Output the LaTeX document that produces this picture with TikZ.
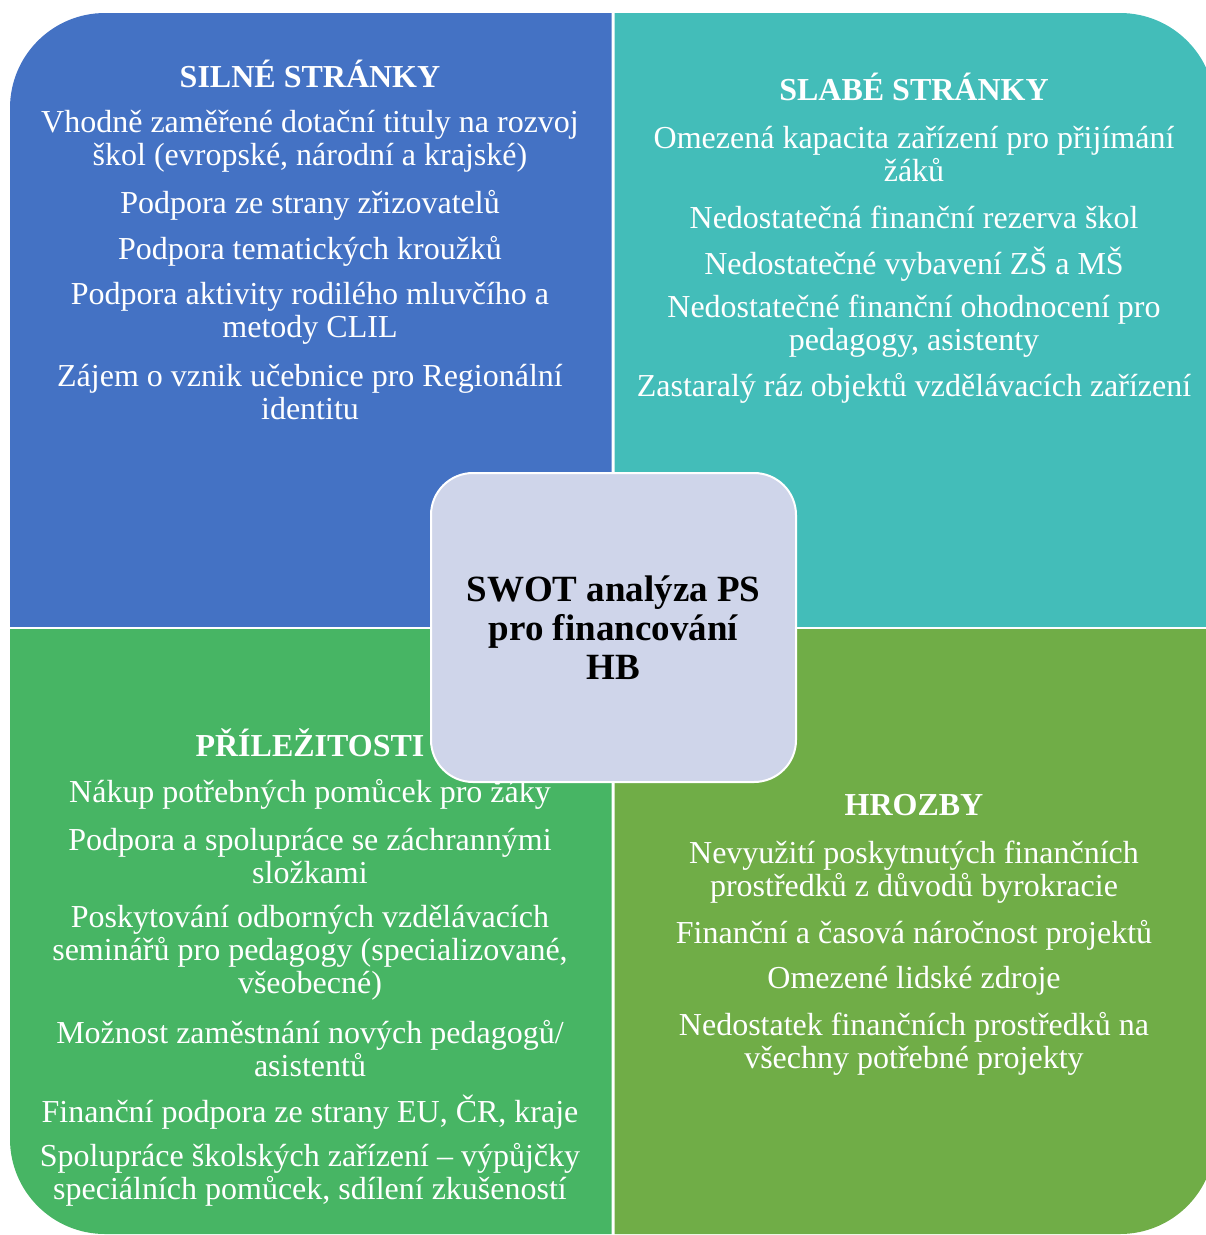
\documentclass[tikz,border=0pt]{standalone}
\usepackage{fontspec}
\setmainfont{Liberation Serif}
\definecolor{qblue}{HTML}{4472C4}
\definecolor{qteal}{HTML}{43BDB9}
\definecolor{qgreen}{HTML}{47B564}
\definecolor{qolive}{HTML}{70AD47}
\definecolor{qcenter}{HTML}{CFD5EA}
\tikzset{
  item/.style={text=white, align=center, inner sep=0pt, yshift=-3pt, font=\fontsize{32}{33}\selectfont},
  head/.style={text=white, align=center, inner sep=0pt, yshift=1pt, font=\fontsize{32}{33}\selectfont\bfseries},
  centerbox/.style={fill=qcenter, draw=white, line width=2pt, rounded corners=42pt,
    minimum width=365pt, minimum height=309pt, align=center, inner sep=0pt,
    font=\fontsize{37}{39}\selectfont\bfseries}
}
\begin{document}
\begin{tikzpicture}[x=1pt,y=-1pt]
\useasboundingbox (0,0) rectangle (1206,1235);
\clip (0,0) rectangle (1206,1235);
% quadrants
\begin{scope}
  \clip (0,0) rectangle (611.5,626.5);
  \fill[qblue, rounded corners=95pt] (10,13) rectangle (1215,1234);
\end{scope}
\begin{scope}
  \clip (614.5,0) rectangle (1220,626.5);
  \fill[qteal, rounded corners=95pt] (10,13) rectangle (1215,1234);
\end{scope}
\begin{scope}
  \clip (0,629) rectangle (611.5,1240);
  \fill[qgreen, rounded corners=95pt] (10,13) rectangle (1215,1234);
\end{scope}
\begin{scope}
  \clip (614.5,629) rectangle (1220,1240);
  \fill[qolive, rounded corners=95pt] (10,13) rectangle (1215,1234);
\end{scope}
% strengths
\node[head] (sh) at (310,75) {SILNÉ STRÁNKY};
\node[item] (s1) at (310,138.5) {Vhodně zaměřené dotační tituly na rozvoj\\škol (evropské, národní a krajské)};
\node[item] (s2) at (310,202) {Podpora ze strany zřizovatelů};
\node[item] (s3) at (310,248) {Podpora tematických kroužků};
\node[item] (s4) at (310,310.5) {Podpora aktivity rodilého mluvčího a\\metody CLIL};
\node[item] (s5) at (310,389.5) {Zájem o vznik učebnice pro Regionální\\identitu};
% weaknesses
\node[head] (wh) at (914,88) {SLABÉ STRÁNKY};
\node[item] (w1) at (914,151.5) {Omezená kapacita zařízení pro přijímání\\žáků};
\node[item] (w2) at (914,214) {Nedostatečná finanční rezerva škol};
\node[item] (w3) at (914,261) {Nedostatečné vybavení ZŠ a MŠ};
\node[item] (w4) at (914,323.5) {Nedostatečné finanční ohodnocení pro\\pedagogy, asistenty};
\node[item] (w5) at (914,385) {Zastaralý ráz objektů vzdělávacích zařízení};
% opportunities
\node[head] (oh) at (310,744) {PŘÍLEŽITOSTI};
\node[item] (o1) at (310,791) {Nákup potřebných pomůcek pro žáky};
\node[item] (o2) at (310,853.5) {Podpora a spolupráce se záchrannými\\složkami};
\node[item] (o3) at (310,949.5) {Poskytování odborných vzdělávacích\\seminářů pro pedagogy (specializované,\\všeobecné)};
\node[item] (o4) at (310,1046) {Možnost zaměstnání nových pedagogů/\\asistentů};
\node[item] (o5) at (310,1109) {Finanční podpora ze strany EU, ČR, kraje};
\node[item] (o6) at (310,1171.5) {Spolupráce školských zařízení – výpůjčky\\speciálních pomůcek, sdílení zkušeností};
% threats
\node[head] (th) at (914,806) {HROZBY};
\node[item] (t1) at (914,869.5) {Nevyužití poskytnutých finančních\\prostředků z důvodů byrokracie};
\node[item] (t2) at (914,932) {Finanční a časová náročnost projektů};
\node[item] (t3) at (914,978) {Omezené lidské zdroje};
\node[item] (t4) at (914,1040.5) {Nedostatek finančních prostředků na\\všechny potřebné projekty};
% center
\node[centerbox] (c) at (613.5,627.5) {SWOT analýza PS\\pro financování\\HB};
\end{tikzpicture}
\end{document}
